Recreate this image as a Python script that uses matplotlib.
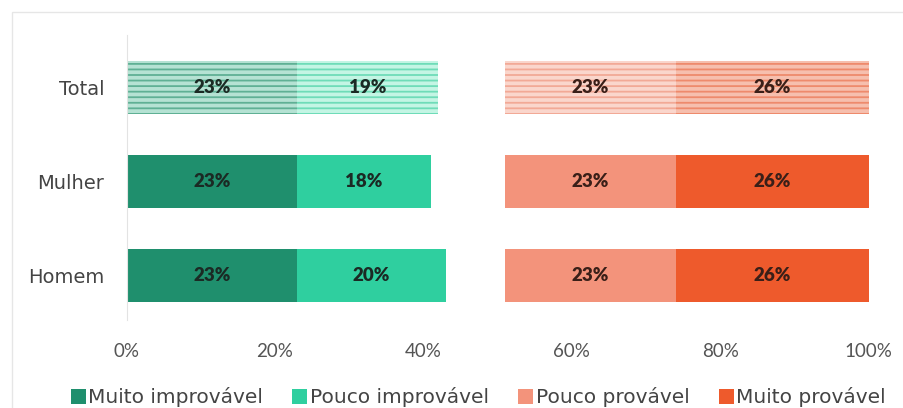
import matplotlib
matplotlib.use("Agg")
import matplotlib.pyplot as plt
from matplotlib.patches import Rectangle, Patch
import numpy as np

categories = ["Total", "Mulher", "Homem"]
muito_improvavel = [23, 23, 23]
pouco_improvavel = [19, 18, 20]
neutro = [9, 10, 8]
pouco_provavel = [23, 23, 23]
muito_provavel = [26, 26, 26]
xticks = [0, 20, 40, 60, 80, 100]
xtick_labels = ["0%", "20%", "40%", "60%", "80%", "100%"]
legend_labels = ["Muito improvável", "Pouco improvável", "Pouco provável", "Muito provável"]

colors = ["#1f8f6d", "#2fcf9f", "#f3937b", "#ee5a2c"]
light_colors = ["#b5e2d3", "#c4f5e4", "#fad6cc", "#f6bfae"]
hatch_colors = ["#5fb094", "#6fdcb8", "#f2a996", "#ee8a6c"]

plt.rcParams["font.family"] = ["Lato", "DejaVu Sans"]
plt.rcParams["hatch.linewidth"] = 1.3

fig = plt.figure(figsize=(9.04, 4.08), dpi=100)
ax = fig.add_axes([0.140, 0.216, 0.821, 0.698])

# light frame around the chart area
fig.patches.append(Rectangle((0.013, -0.01), 0.99, 0.98, transform=fig.transFigure,
                             fill=False, edgecolor="#e6e6e6", linewidth=1.0))

ypos = np.arange(len(categories))[::-1]
bar_h = 0.56
series = [muito_improvavel, pouco_improvavel, neutro, pouco_provavel, muito_provavel]
color_idx = [0, 1, None, 2, 3]

left = np.zeros(len(categories))
for vals, ci in zip(series, color_idx):
    vals = np.array(vals, dtype=float)
    if ci is not None:
        for i, cat in enumerate(categories):
            if cat == "Total":
                ax.barh(ypos[i], vals[i], left=left[i], height=bar_h,
                        color=light_colors[ci], edgecolor=hatch_colors[ci],
                        hatch="---", linewidth=0)
            else:
                ax.barh(ypos[i], vals[i], left=left[i], height=bar_h,
                        color=colors[ci], linewidth=0)
            ax.text(left[i] + vals[i] / 2, ypos[i], f"{vals[i]:.0f}%",
                    ha="center", va="center", fontsize=13.5, fontweight="heavy",
                    color="#1b2a24" if ci < 2 else "#3a1f18")
    left += vals

ax.set_xlim(0, 100)
ax.set_ylim(-0.47, 2.56)
ax.set_xticks(xticks)
ax.set_xticklabels(xtick_labels, fontsize=13.5, color="#555555")
ax.set_yticks(ypos)
ax.set_yticklabels(categories, fontsize=14, color="#444444", family="DejaVu Sans")
ax.tick_params(axis="x", length=0, pad=17)
ax.tick_params(axis="y", length=0, pad=16)
for s in ["top", "right", "bottom"]:
    ax.spines[s].set_visible(False)
ax.spines["left"].set_color("#e3e3e3")

handles = [Patch(facecolor=c, edgecolor="none") for c in colors]
fig.legend(handles, legend_labels, loc="center", bbox_to_anchor=(0.529, 0.026),
           ncol=4, frameon=False, prop={"family": "DejaVu Sans", "size": 14.5},
           handlelength=0.75, handleheight=0.75,
           handletextpad=0.12, columnspacing=1.45, labelcolor="#444444",
           borderpad=0)

fig.savefig("out.png", dpi=100, facecolor="white")
